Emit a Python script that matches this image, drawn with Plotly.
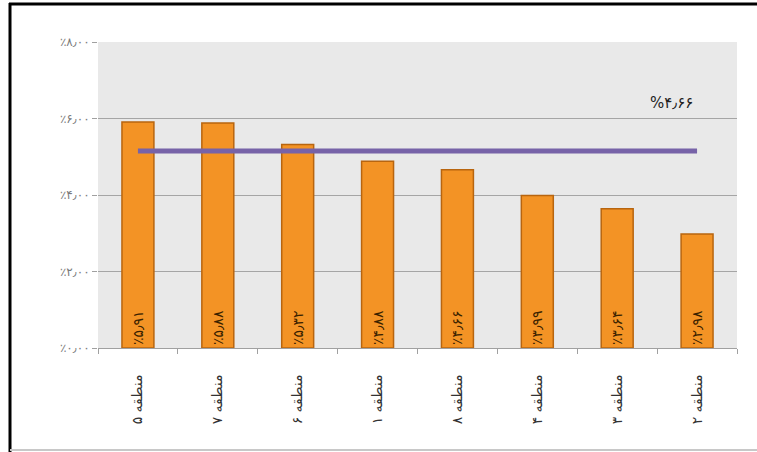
import plotly.graph_objects as go

categories = ["منطقه ۵", "منطقه ۷", "منطقه ۶", "منطقه ۱", "منطقه ۸", "منطقه ۴", "منطقه ۳", "منطقه ۲"]
values = [5.91, 5.88, 5.32, 4.88, 4.66, 3.99, 3.64, 2.98]
bar_labels = ["٪۵٫۹۱", "٪۵٫۸۸", "٪۵٫۳۲", "٪۴٫۸۸", "٪۴٫۶۶", "٪۳٫۹۹", "٪۳٫۶۴", "٪۲٫۹۸"]
avg_line = [5.15, 5.15, 5.15, 5.15, 5.15, 5.15, 5.15, 5.15]
avg_label = "%۴٫۶۶"
tick_vals = [0, 2, 4, 6, 8]
tick_labels = ["٪۰٫۰۰", "٪۲٫۰۰", "٪۴٫۰۰", "٪۶٫۰۰", "٪۸٫۰۰"]

FONT = "DejaVu Sans"

fig = go.Figure()
fig.add_trace(go.Bar(
    x=categories, y=values,
    text=bar_labels, textposition="inside", insidetextanchor="start",
    textangle=-90,
    textfont=dict(family=FONT, size=14, color="#3a2200"),
    marker=dict(color="#F39325", line=dict(color="#B8650F", width=1.5)),
    width=0.4,
    showlegend=False,
))
fig.add_trace(go.Scatter(
    x=categories, y=avg_line, mode="lines",
    line=dict(color="#7763A8", width=5),
    showlegend=False,
))
fig.add_annotation(
    x=0.935, y=6.4, xref="paper", yref="y",
    text=avg_label, showarrow=False,
    font=dict(family=FONT, size=15, color="#222222"),
)

L, R, T, B = 98, 20, 42, 104
W, H = 757, 452
pw, ph = W - L - R, H - T - B

def px(x):
    return (x - L) / pw

def py(y):
    return (H - B - y) / ph

shapes = [
    dict(type="line", xref="paper", yref="paper", x0=px(10), x1=px(10), y0=py(3), y1=py(452),
         line=dict(color="black", width=3)),
    dict(type="line", xref="paper", yref="paper", x0=px(9), x1=px(760), y0=py(4), y1=py(4),
         line=dict(color="black", width=3)),
    dict(type="line", xref="paper", yref="paper", x0=px(10), x1=px(760), y0=py(450), y1=py(450),
         line=dict(color="#c8c8c8", width=2)),
]

fig.update_layout(
    width=W, height=H,
    margin=dict(l=L, r=R, t=T, b=B),
    paper_bgcolor="white",
    plot_bgcolor="#e9e9e9",
    shapes=shapes,
    bargap=0.6,
    xaxis=dict(
        tickangle=-90,
        tickfont=dict(family=FONT, size=14, color="#333333"),
        ticks="outside", tickson="boundaries", ticklen=5, tickcolor="#a0a0a0",
        ticklabelstandoff=20,
        showline=True, linecolor="#a0a0a0", linewidth=1,
        showgrid=False,
    ),
    yaxis=dict(
        range=[0, 8],
        tickvals=tick_vals, ticktext=tick_labels,
        tickfont=dict(family=FONT, size=12, color="#7a7a7a"),
        ticks="outside", ticklen=5, tickcolor="#a0a0a0",
        showgrid=True, gridcolor="#a5a5a5", gridwidth=1,
        showline=False, zeroline=False,
    ),
)

fig.write_html("out.html", config={"displayModeBar": False},
               post_script="document.body.style.margin='0';document.body.style.overflow='hidden';")
